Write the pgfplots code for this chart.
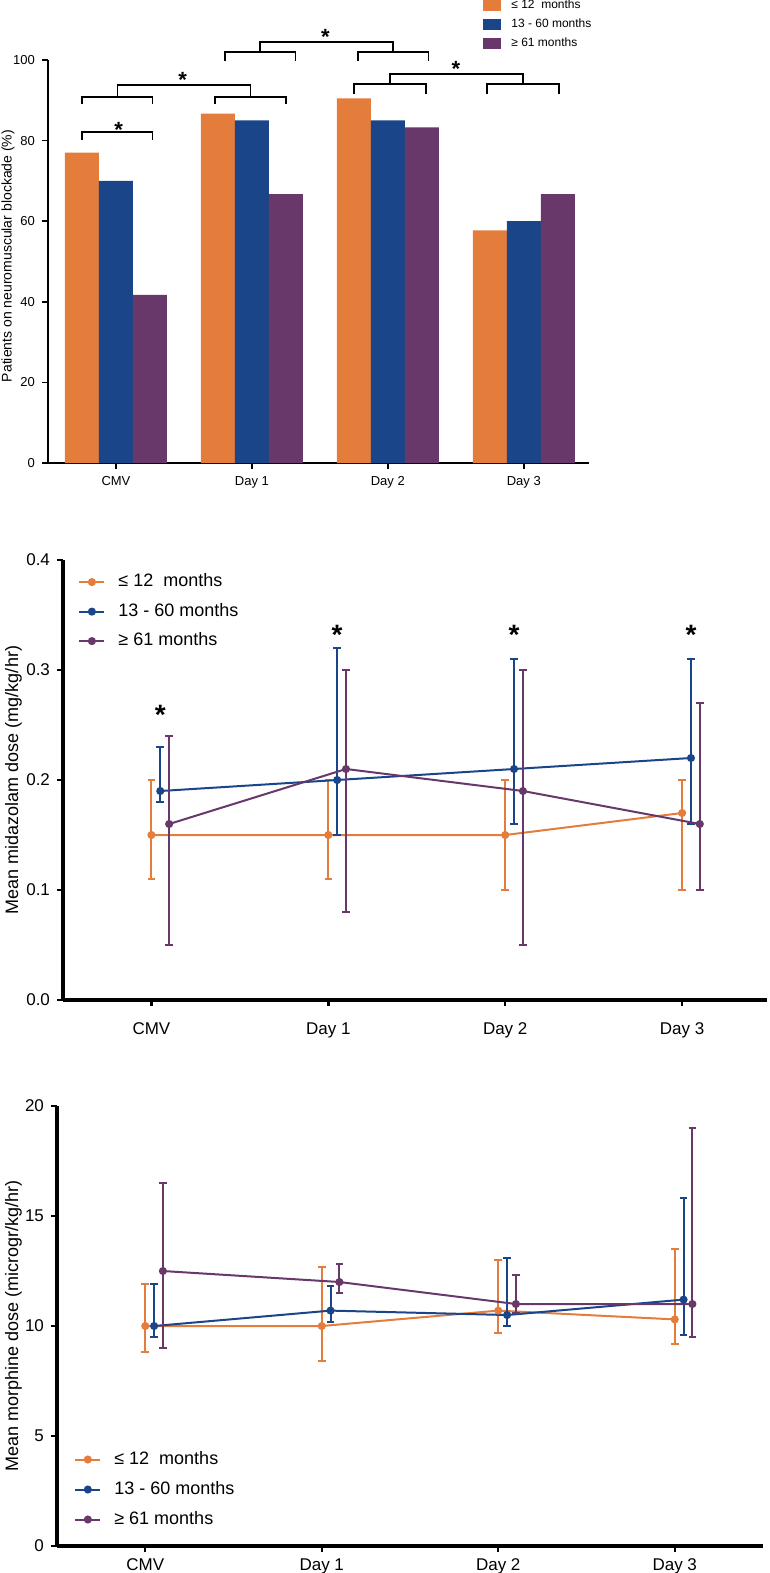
\documentclass[border=0pt]{standalone}
\usepackage{pgfplots}
\pgfplotsset{compat=1.18}
\usepackage{fontspec}
\setmainfont{Liberation Sans}
\definecolor{cor}{RGB}{228,124,60}
\definecolor{cbl}{RGB}{26,69,136}
\definecolor{cpu}{RGB}{103,56,105}
\pgfplotsset{
  barlegend/.style={legend image code/.code={\fill[##1] (0pt,-2.7pt) rectangle (9pt,2.7pt);}},
  linelegend/.style={legend image code/.code={\draw[mark repeat=2,mark phase=2,##1] plot coordinates {(0pt,0pt) (6.25pt,0pt) (12.5pt,0pt)};}},
  lineaxis/.style={
    scale only axis, axis lines=left, axis line style={-, line width=1.6pt},
    xtick={0,1,2,3}, xticklabels={CMV,Day 1,Day 2,Day 3},
    tick align=outside, major tick length=3pt,
    tick style={black, line width=1.2pt},
    tick label style={font=\fontsize{8.5}{10}\selectfont},
    /pgf/number format/assume math mode=true,
    clip=false,
    every axis plot/.append style={line width=1pt, mark=*, mark size=1.5pt},
    error bars/error bar style={line width=1pt},
    error bars/error mark options={line width=1pt, mark size=1.9pt, rotate=90},
    legend cell align=left,
    linelegend,
  },
}
\begin{document}
\begin{tikzpicture}[x=1pt,y=1pt]
% ---------------- Panel 1 ----------------
\begin{axis}[
  at={(24pt,-231.5pt)}, anchor=south west,
  scale only axis, width=270.5pt, height=201.5pt,
  xmin=-0.5, xmax=3.48, ymin=0, ymax=100,
  axis lines=left, axis line style={-, line width=1pt},
  ybar=0pt, bar width=17pt,
  every axis plot post/.append style={barlegend},
  xtick={0,1,2,3}, xticklabels={CMV,Day 1,Day 2,Day 3},
  ytick={0,20,40,60,80,100},
  tick align=outside, major tick length=3pt,
  tick style={black, line width=0.9pt},
  tick label style={font=\fontsize{6.5}{7.5}\selectfont},
  /pgf/number format/assume math mode=true,
  clip=false,
  legend cell align=left,
  legend style={at={(0.804,1.150)}, anchor=north west, draw=none, fill=none,
    inner sep=0pt, row sep=3.8pt, column sep=5pt,
    font=\fontsize{6}{7}\selectfont,
    nodes={inner sep=0pt, text height=4.5pt, text depth=1.2pt}},
]
\addplot[fill=cor, draw=none] coordinates {(0,77.0) (1,86.7) (2,90.5) (3,57.7)};
\addplot[fill=cbl, draw=none] coordinates {(0,70.0) (1,85.0) (2,85.0) (3,60.0)};
\addplot[fill=cpu, draw=none] coordinates {(0,41.7) (1,66.7) (2,83.3) (3,66.7)};
\legend{≤ 12\ \ months, 13 - 60 months, ≥ 61 months}
% significance brackets
\begin{scope}[line width=0.8pt, black]
\draw (axis cs:-0.25,80.1) -- (axis cs:-0.25,82.1) -- (axis cs:0.27,82.1) -- (axis cs:0.27,80.1);
\draw (axis cs:-0.25,89.1) -- (axis cs:-0.25,90.8) -- (axis cs:0.27,90.8) -- (axis cs:0.27,89.1);
\draw (axis cs:0.73,89.1) -- (axis cs:0.73,90.8) -- (axis cs:1.25,90.8) -- (axis cs:1.25,89.1);
\draw (axis cs:0.01,90.8) -- (axis cs:0.01,93.8) -- (axis cs:0.99,93.8) -- (axis cs:0.99,90.8);
\draw (axis cs:0.80,99.75) -- (axis cs:0.80,102.0) -- (axis cs:1.32,102.0) -- (axis cs:1.32,99.75);
\draw (axis cs:1.78,99.75) -- (axis cs:1.78,102.0) -- (axis cs:2.30,102.0) -- (axis cs:2.30,99.75);
\draw (axis cs:1.06,102.0) -- (axis cs:1.06,104.5) -- (axis cs:2.04,104.5) -- (axis cs:2.04,102.0);
\draw (axis cs:1.75,91.6) -- (axis cs:1.75,94.0) -- (axis cs:2.28,94.0) -- (axis cs:2.28,91.6);
\draw (axis cs:2.73,91.6) -- (axis cs:2.73,94.0) -- (axis cs:3.26,94.0) -- (axis cs:3.26,91.6);
\draw (axis cs:2.015,94.0) -- (axis cs:2.015,96.5) -- (axis cs:2.995,96.5) -- (axis cs:2.995,94.0);
\end{scope}
\begin{scope}[every node/.style={font=\fontsize{11}{11}\selectfont\bfseries, inner sep=0pt, anchor=north}]
\node at (axis cs:0.02,84.7) {*};
\node at (axis cs:0.49,97.1) {*};
\node at (axis cs:1.54,107.6) {*};
\node at (axis cs:2.5,99.8) {*};
\end{scope}
\end{axis}
\node[rotate=90, font=\fontsize{7}{8}\selectfont] at (4pt,-128pt) {Patients on neuromuscular blockade (\%)};

% ---------------- Panel 2 ----------------
\begin{axis}[lineaxis,
  at={(31.5pt,-500pt)}, anchor=south west,
  width=352pt, height=220pt,
  xmin=-0.5, xmax=3.48, ymin=0, ymax=0.4,
  xticklabel style={yshift=-5pt},
  ytick={0,0.1,0.2,0.3,0.4}, scaled y ticks=false,
  yticklabel style={/pgf/number format/fixed, /pgf/number format/fixed zerofill, /pgf/number format/precision=1},
  legend style={at={(0.0213,0.970)}, anchor=north west, draw=none, fill=none,
    inner sep=0pt, row sep=6.25pt, column sep=6.5pt,
    font=\fontsize{9}{10}\selectfont,
    nodes={inner sep=0pt, text height=6.5pt, text depth=2pt}},
]
\addplot[cor, error bars/.cd, y dir=both, y explicit] table[x=x,y=y,y error plus=ep,y error minus=em] {
x y ep em
0 0.15 0.05 0.04
1 0.15 0.05 0.04
2 0.15 0.05 0.05
3 0.17 0.03 0.07
};
\addplot[cbl, error bars/.cd, y dir=both, y explicit] table[x=x,y=y,y error plus=ep,y error minus=em] {
x y ep em
0.05 0.19 0.04 0.01
1.05 0.20 0.12 0.05
2.05 0.21 0.10 0.05
3.05 0.22 0.09 0.06
};
\addplot[cpu, error bars/.cd, y dir=both, y explicit] table[x=x,y=y,y error plus=ep,y error minus=em] {
x y ep em
0.1 0.16 0.08 0.11
1.1 0.21 0.09 0.13
2.1 0.19 0.11 0.14
3.1 0.16 0.11 0.06
};
\legend{≤ 12\ \ months, 13 - 60 months, ≥ 61 months}
\begin{scope}[every node/.style={font=\fontsize{14}{14}\selectfont\bfseries, inner sep=0pt, anchor=north}]
\node at (axis cs:0.05,0.268) {*};
\node at (axis cs:1.05,0.341) {*};
\node at (axis cs:2.05,0.341) {*};
\node at (axis cs:3.05,0.341) {*};
\end{scope}
\end{axis}
\node[rotate=90, font=\fontsize{9}{10}\selectfont] at (6.75pt,-390pt) {Mean midazolam dose (mg/kg/hr)};

% ---------------- Panel 3 ----------------
\begin{axis}[lineaxis,
  at={(28.5pt,-773pt)}, anchor=south west,
  width=353pt, height=220pt,
  xmin=-0.5, xmax=3.5, ymin=0, ymax=20,
  ytick={0,5,10,15,20},
  legend style={at={(0.024,0.04)}, anchor=south west, draw=none, fill=none,
    inner sep=0pt, row sep=6.5pt, column sep=6.5pt,
    font=\fontsize{9}{10}\selectfont,
    nodes={inner sep=0pt, text height=6.5pt, text depth=2pt}},
]
\addplot[cor, error bars/.cd, y dir=both, y explicit] table[x=x,y=y,y error plus=ep,y error minus=em] {
x y ep em
0 10.0 1.9 1.2
1 10.0 2.7 1.6
2 10.7 2.3 1.0
3 10.3 3.2 1.1
};
\addplot[cbl, error bars/.cd, y dir=both, y explicit] table[x=x,y=y,y error plus=ep,y error minus=em] {
x y ep em
0.05 10.0 1.9 0.5
1.05 10.7 1.1 0.5
2.05 10.5 2.6 0.5
3.05 11.2 4.6 1.6
};
\addplot[cpu, error bars/.cd, y dir=both, y explicit] table[x=x,y=y,y error plus=ep,y error minus=em] {
x y ep em
0.1 12.5 4.0 3.5
1.1 12.0 0.8 0.5
2.1 11.0 1.3 0.4
3.1 11.0 8.0 1.5
};
\legend{≤ 12\ \ months, 13 - 60 months, ≥ 61 months}
\end{axis}
\node[rotate=90, font=\fontsize{9}{10}\selectfont] at (6.75pt,-663pt) {Mean morphine dose (microgr/kg/hr)};

\pgfresetboundingbox
\useasboundingbox (0pt,0pt) rectangle (385pt,-786.5pt);
\end{tikzpicture}
\end{document}
